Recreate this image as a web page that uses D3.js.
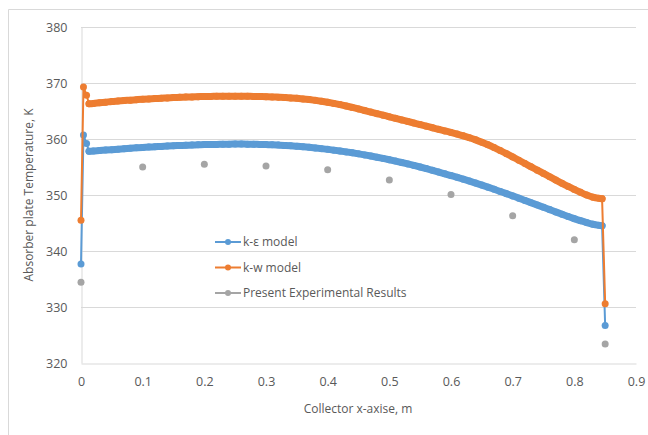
<!DOCTYPE html>
<html lang="en">
<head>
<meta charset="UTF-8">
<title>Absorber plate temperature</title>
<style>
    body { margin: 0; background: #fff; font-family: "Open Sans", Arial, sans-serif; }
    svg text { fill: #595959; }
</style>
</head>
<body>
<div id="chart"></div>
<script src="https://d3js.org/d3.v7.min.js"></script>
<script>
    // x positions along the collector (m) for the two model curves
    const modelX = [0, 0.004, 0.009, 0.013,
        0.02, 0.03, 0.04, 0.05, 0.06, 0.07, 0.08, 0.09, 0.10,
        0.11, 0.12, 0.13, 0.14, 0.15, 0.16, 0.17, 0.18, 0.19, 0.20,
        0.21, 0.22, 0.23, 0.24, 0.25, 0.26, 0.27, 0.28, 0.29, 0.30,
        0.31, 0.32, 0.33, 0.34, 0.35, 0.36, 0.37, 0.38, 0.39, 0.40,
        0.41, 0.42, 0.43, 0.44, 0.45, 0.46, 0.47, 0.48, 0.49, 0.50,
        0.51, 0.52, 0.53, 0.54, 0.55, 0.56, 0.57, 0.58, 0.59, 0.60,
        0.61, 0.62, 0.63, 0.64, 0.65, 0.66, 0.67, 0.68, 0.69, 0.70,
        0.71, 0.72, 0.73, 0.74, 0.75, 0.76, 0.77, 0.78, 0.79, 0.80,
        0.81, 0.82, 0.83, 0.84, 0.845, 0.85];

    // k-epsilon model temperatures (K)
    const kEpsilon = [337.7, 360.7, 359.2, 357.8,
        357.85, 357.93, 358.02, 358.10, 358.18, 358.26, 358.34, 358.42, 358.50,
        358.56, 358.62, 358.68, 358.74, 358.80, 358.84, 358.88, 358.92, 358.96, 359.00,
        359.02, 359.04, 359.06, 359.08, 359.09, 359.09, 359.08, 359.06, 359.03, 359.00,
        358.96, 358.91, 358.85, 358.78, 358.70, 358.61, 358.51, 358.40, 358.28, 358.15,
        358.01, 357.86, 357.70, 357.53, 357.35, 357.16, 356.96, 356.75, 356.53, 356.30,
        356.06, 355.81, 355.55, 355.28, 355.00, 354.71, 354.41, 354.10, 353.79, 353.47,
        353.15, 352.82, 352.48, 352.13, 351.77, 351.40, 351.02, 350.63, 350.24, 349.84,
        349.44, 349.03, 348.62, 348.21, 347.80, 347.39, 346.98, 346.57, 346.17, 345.78,
        345.41, 345.07, 344.78, 344.58, 344.50, 326.7];

    // k-w model temperatures (K)
    const kOmega = [345.5, 369.3, 367.8, 366.3,
        366.35, 366.47, 366.58, 366.70, 366.78, 366.86, 366.94, 367.02, 367.10,
        367.16, 367.22, 367.28, 367.34, 367.40, 367.44, 367.48, 367.52, 367.56, 367.60,
        367.61, 367.62, 367.63, 367.64, 367.65, 367.64, 367.63, 367.61, 367.59, 367.56,
        367.52, 367.47, 367.41, 367.34, 367.26, 367.16, 367.04, 366.90, 366.74, 366.56,
        366.36, 366.14, 365.90, 365.64, 365.37, 365.09, 364.81, 364.53, 364.25, 363.97,
        363.69, 363.41, 363.13, 362.85, 362.57, 362.29, 362.01, 361.73, 361.45, 361.17,
        360.88, 360.57, 360.23, 359.85, 359.43, 358.97, 358.47, 357.94, 357.38, 356.80,
        356.21, 355.62, 355.03, 354.44, 353.85, 353.26, 352.67, 352.09, 351.53, 351.00,
        350.48, 350.00, 349.62, 349.40, 349.32, 330.6];

    // experimental measurements
    const expX = [0, 0.1, 0.2, 0.3, 0.4, 0.5, 0.6, 0.7, 0.8, 0.85];
    const expT = [334.4, 355.0, 355.5, 355.2, 354.5, 352.7, 350.1, 346.3, 342.0, 323.4];

    const xTicks = [0, 0.1, 0.2, 0.3, 0.4, 0.5, 0.6, 0.7, 0.8, 0.9];
    const yTicks = [320, 330, 340, 350, 360, 370, 380];

    const seriesNames = ["k-\u03b5 model", "k-w model", "Present Experimental Results"];
    const colors = ["#5B9BD5", "#ED7D31", "#A5A5A5"];

    const W = 648, H = 435;
    const plot = { left: 81, right: 636, top: 27, bottom: 363 };

    const svg = d3.select("#chart").append("svg")
        .attr("width", W)
        .attr("height", H);

    // outer chart border (top and left visible)
    svg.append("path")
        .attr("d", `M8.5,${H}V9.5H${W}`)
        .attr("fill", "none")
        .attr("stroke", "#D9D9D9");

    const x = d3.scaleLinear().domain([0, 0.9]).range([plot.left, plot.right]);
    const y = d3.scaleLinear().domain([320, 380]).range([plot.bottom, plot.top]);

    // horizontal gridlines
    svg.append("g")
        .selectAll("line")
        .data(yTicks.slice(1))
        .join("line")
        .attr("x1", plot.left).attr("x2", plot.right)
        .attr("y1", d => Math.round(y(d)) + 0.5)
        .attr("y2", d => Math.round(y(d)) + 0.5)
        .attr("stroke", "#D9D9D9");

    // axes
    const xAxis = svg.append("g")
        .attr("transform", `translate(0,${Math.round(plot.bottom) + 0.5})`)
        .call(d3.axisBottom(x).tickValues(xTicks).tickSize(0).tickPadding(14)
            .tickFormat(d => d === 0 ? "0" : d3.format(".1f")(d)));
    const yAxis = svg.append("g")
        .attr("transform", `translate(${plot.left + 0.5},0)`)
        .call(d3.axisLeft(y).tickValues(yTicks).tickSize(0).tickPadding(14));

    [xAxis, yAxis].forEach(g => {
        g.select(".domain").attr("stroke", "#D9D9D9");
        g.selectAll("text")
            .style("font-family", "'Open Sans', Arial, sans-serif")
            .style("font-size", "12.5px")
            .attr("fill", "#595959");
    });

    // axis titles
    svg.append("text")
        .attr("x", 358).attr("y", 413)
        .attr("text-anchor", "middle")
        .style("font-size", "12px")
        .text("Collector x-axise, m");

    svg.append("text")
        .attr("transform", "translate(33,195) rotate(-90)")
        .attr("text-anchor", "middle")
        .style("font-size", "12px")
        .text("Absorber plate Temperature, K");

    const line = d3.line().x(d => x(d[0])).y(d => y(d[1]));

    const models = [kEpsilon, kOmega];
    models.forEach((vals, i) => {
        const pts = modelX.map((xv, j) => [xv, vals[j]]);
        // thin connecting line through every point
        svg.append("path")
            .datum(pts)
            .attr("d", line)
            .attr("fill", "none")
            .attr("stroke", colors[i])
            .attr("stroke-width", 2);
        // dense markers merge into a thick band along the plate
        svg.append("path")
            .datum(pts.slice(3, pts.length - 1))
            .attr("d", line.curve(d3.curveMonotoneX))
            .attr("fill", "none")
            .attr("stroke", colors[i])
            .attr("stroke-width", 7)
            .attr("stroke-linecap", "round")
            .attr("stroke-linejoin", "round");
        line.curve(d3.curveLinear);
        svg.append("g")
            .selectAll("circle")
            .data(pts)
            .join("circle")
            .attr("cx", d => x(d[0]))
            .attr("cy", d => y(d[1]))
            .attr("r", 3.5)
            .attr("fill", colors[i]);
    });

    // experimental points (markers only)
    svg.append("g")
        .selectAll("circle")
        .data(expX.map((xv, j) => [xv, expT[j]]))
        .join("circle")
        .attr("cx", d => x(d[0]))
        .attr("cy", d => y(d[1]))
        .attr("r", 3.5)
        .attr("fill", colors[2]);

    // legend
    const legend = svg.append("g").attr("transform", "translate(215,242)");
    seriesNames.forEach((name, i) => {
        const row = legend.append("g").attr("transform", `translate(0,${i * 25.5})`);
        row.append("line")
            .attr("x1", 0).attr("x2", 26)
            .attr("stroke", colors[i]).attr("stroke-width", 2);
        row.append("circle")
            .attr("cx", 13).attr("r", 3)
            .attr("fill", colors[i]);
        row.append("text")
            .attr("x", 28).attr("dy", "0.35em")
            .style("font-size", "12px")
            .text(name);
    });
</script>
</body>
</html>
